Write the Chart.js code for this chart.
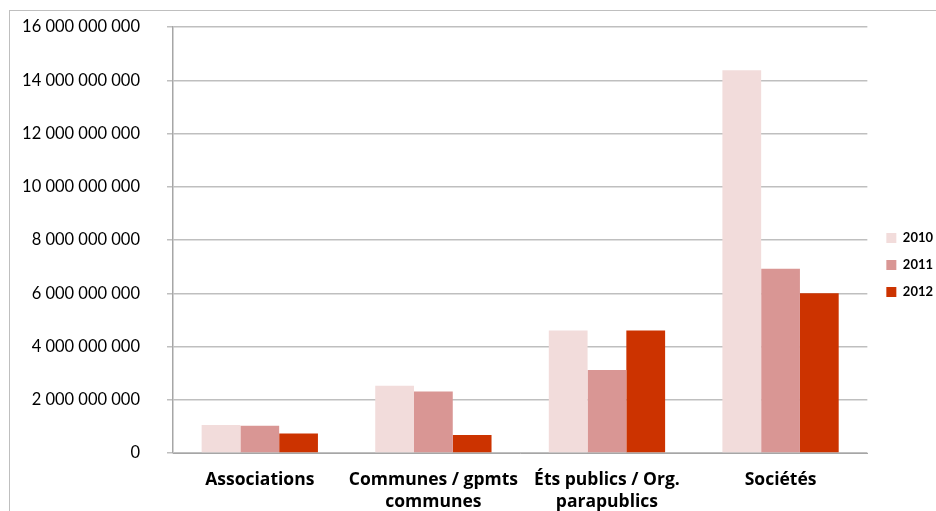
<!DOCTYPE html>
<html>
<head>
<meta charset="utf-8">
<script src="https://cdn.jsdelivr.net/npm/chart.js@4.4.1/dist/chart.umd.min.js"></script>
<style>
  html, body { margin: 0; padding: 0; background: #fff; }
  #wrap { position: relative; width: 936px; height: 511px; overflow: hidden; }
  #frame { position: absolute; left: 9px; top: 10px; width: 1000px; height: 600px; border: 1px solid #bfbfbf; box-sizing: border-box; }
  canvas { position: absolute; left: 0; top: 0; }
</style>
</head>
<body>
<div id="wrap">
  <div id="frame"></div>
  <canvas id="chartBar" width="936" height="511"></canvas>
</div>
<script>
// categories and yearly amounts (euros)
const categories = [
  "Associations",
  ["Communes / gpmts", "communes"],
  ["Éts publics / Org.", "parapublics"],
  "Sociétés"
];
const years = ["2010", "2011", "2012"];
const values2010 = [1050000000, 2530000000, 4600000000, 14380000000];
const values2011 = [1020000000, 2310000000, 3120000000, 6920000000];
const values2012 = [730000000, 680000000, 4600000000, 6000000000];
const colors = ["#f2dcdb", "#d99694", "#cc3300"];

const fmt = v => String(v).replace(/\B(?=(\d{3})+(?!\d))/g, " ");

// nudge the legend a few pixels away from the plot
const legendShift = {
  id: "legendShift",
  afterLayout(chart) {
    if (chart.legend) {
      chart.legend.left += 5;
      chart.legend.right += 5;
      chart.legend.top -= 4;
      chart.legend.bottom -= 4;
    }
  },
};

const dataBar = {
  labels: categories,
  datasets: [values2010, values2011, values2012].map((vals, i) => ({
    label: years[i],
    data: vals,
    backgroundColor: colors[i],
    borderWidth: 0,
    barPercentage: 1,
    categoryPercentage: 0.67,
  })),
};

const configBar = {
  type: "bar",
  data: dataBar,
  plugins: [legendShift],
  options: {
    responsive: false,
    animation: false,
    layout: { padding: { top: 27, left: 0, right: -2, bottom: 0 } },
    plugins: {
      tooltip: { enabled: false },
      legend: {
        position: "right",
        labels: {
          boxWidth: 10,
          boxHeight: 10,
          padding: 14,
          color: "#000",
          font: { family: "Lato", size: 13, weight: "bold" },
        },
      },
    },
    scales: {
      x: {
        grid: { display: false },
        border: { color: "#a6a6a6", width: 1 },
        ticks: {
          color: "#000",
          padding: 8,
          maxRotation: 0,
          font: { family: "Open Sans", size: 17.5, weight: "bold", lineHeight: 1.25 },
        },
        afterFit: s => { s.height = 58; },
      },
      y: {
        min: 0,
        max: 16000000000,
        ticks: {
          stepSize: 2000000000,
          padding: 27,
          color: "#000",
          font: { family: "Lato", size: 16.5 },
          callback: v => fmt(v),
        },
        grid: { color: "#bfbfbf", lineWidth: 1.5, tickLength: 6 },
        border: { color: "#a6a6a6", width: 1.5 },
        afterFit: s => { s.width = 173; s.paddingTop = 0; s.paddingBottom = 0; },
      },
    },
  },
};

const chartBar = new Chart(document.getElementById("chartBar"), configBar);
</script>
</body>
</html>
